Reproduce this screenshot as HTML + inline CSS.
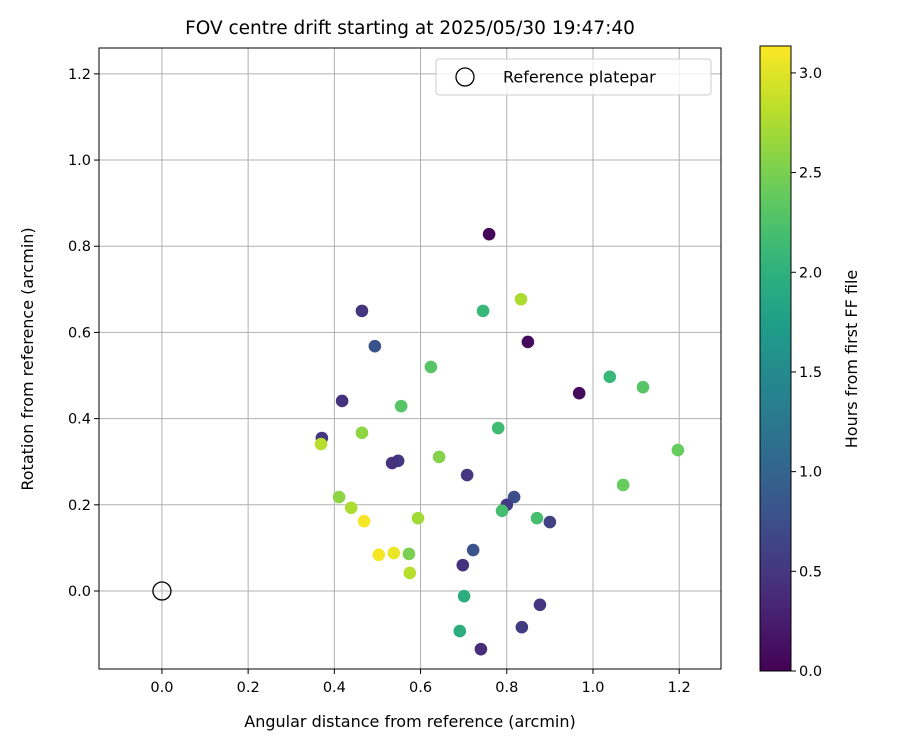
<!DOCTYPE html>
<html><head><meta charset="utf-8"><style>
body{margin:0;background:#fff;font-family:"Liberation Sans","DejaVu Sans",sans-serif;}
svg text{font-family:"DejaVu Sans","Liberation Sans",sans-serif;}
</style></head><body>
<svg id="chart" width="900" height="750" viewBox="0 0 900 750" xmlns="http://www.w3.org/2000/svg"></svg>
<script>
const xValues=[0.759,0.833,0.745,0.464,0.494,0.849,0.624,1.039,1.116,0.968,0.418,0.555,0.780,0.464,0.371,0.369,1.197,0.643,0.548,0.534,0.708,1.070,0.411,0.817,0.800,0.439,0.789,0.870,0.594,0.900,0.469,0.722,0.538,0.503,0.573,0.698,0.575,0.701,0.877,0.691,0.835,0.740];
const yValues=[0.828,0.677,0.650,0.650,0.568,0.578,0.520,0.497,0.473,0.459,0.441,0.429,0.378,0.367,0.355,0.341,0.327,0.311,0.302,0.297,0.269,0.246,0.218,0.218,0.200,0.193,0.186,0.169,0.169,0.160,0.162,0.095,0.088,0.084,0.086,0.060,0.042,-0.012,-0.032,-0.093,-0.084,-0.135];
const hours=[0.05,2.75,2.1,0.5,0.8,0.1,2.3,2.1,2.3,0.1,0.45,2.3,2.15,2.6,0.5,2.8,2.4,2.55,0.5,0.45,0.5,2.4,2.6,0.75,0.55,2.75,2.2,2.2,2.7,0.6,3.1,0.8,3.05,3.1,2.5,0.45,2.8,1.95,0.5,1.95,0.55,0.4];
const xTicks=[0,0.2,0.4,0.6,0.8,1.0,1.2];
const yTicks=[0,0.2,0.4,0.6,0.8,1.0,1.2];
const cTicks=[0,0.5,1.0,1.5,2.0,2.5,3.0];
const NS="http://www.w3.org/2000/svg";
const svg=document.getElementById('chart');
const X0=99,X1=721,Y0=48,Y1=669;
const xmin=-0.146,xmax=1.297,ymin=-0.181,ymax=1.26;
const cmin=0,cmax=3.135,CX=760,CW=31,CT=46,CB=671;
const sx=v=>X0+(v-xmin)/(xmax-xmin)*(X1-X0);
const sy=v=>Y1-(v-ymin)/(ymax-ymin)*(Y1-Y0);
const sc=v=>CB-(v-cmin)/(cmax-cmin)*(CB-CT);
const vir=[[68,1,84],[72,40,120],[62,74,137],[49,104,142],[38,130,142],[31,158,137],[53,183,121],[109,205,89],[180,222,44],[253,231,37]];
function viridis(t){t=Math.max(0,Math.min(1,t));const p=t*9,i=Math.min(8,Math.floor(p)),f=p-i;const a=vir[i],b=vir[i+1];return `rgb(${a.map((c,k)=>Math.round(c+(b[k]-c)*f)).join(',')})`;}
function el(tag,attrs,text){const e=document.createElementNS(NS,tag);for(const k in attrs)e.setAttribute(k,attrs[k]);if(text!==undefined)e.textContent=text;svg.appendChild(e);return e;}
el('text',{x:410,y:34,'text-anchor':'middle','font-size':'18.5',},'FOV centre drift starting at 2025/05/30 19:47:40');
xTicks.forEach(t=>{const x=sx(t);
 const g=el('line',{x1:x,x2:x,y1:Y0,y2:Y1,stroke:'#b0b0b0','stroke-width':1});
 const tk=el('line',{x1:x,x2:x,y1:Y1,y2:Y1+5,stroke:'#000'});
 const l=el('text',{x:x,y:Y1+23,'text-anchor':'middle','font-size':'14.5'},t.toFixed(1));});
yTicks.forEach(t=>{const y=sy(t);
 const g=el('line',{x1:X0,x2:X1,y1:y,y2:y,stroke:'#b0b0b0','stroke-width':1});
 const tk=el('line',{x1:X0-5,x2:X0,y1:y,y2:y,stroke:'#000'});
 const l=el('text',{x:X0-8,y:y+5,'text-anchor':'end','font-size':'14.5'},t.toFixed(1));});
xValues.forEach((v,i)=>{const c=el('circle',{cx:sx(v),cy:sy(yValues[i]),r:6.3,fill:viridis((hours[i]-cmin)/(cmax-cmin))});
 
 });
el('circle',{cx:sx(0),cy:sy(0),r:9,fill:'none',stroke:'#000','stroke-width':1.3,});
el('rect',{x:X0,y:Y0,width:X1-X0,height:Y1-Y0,fill:'none',stroke:'#000','stroke-width':1,});
el('text',{x:410,y:727,'text-anchor':'middle','font-size':'16',},'Angular distance from reference (arcmin)');
el('text',{x:33,y:359,'text-anchor':'middle','font-size':'16',transform:'rotate(-90 33 359)',},'Rotation from reference (arcmin)');
el('rect',{x:436,y:59,width:275,height:36,rx:3,fill:'#fff','fill-opacity':0.8,stroke:'#ccc',});
el('circle',{cx:465,cy:77,r:9,fill:'none',stroke:'#000','stroke-width':1.3,});
el('text',{x:503,y:82.5,'font-size':'16',},'Reference platepar');
const defs=el('defs',{});const grad=document.createElementNS(NS,'linearGradient');grad.setAttribute('id','vg');grad.setAttribute('x1','0');grad.setAttribute('y1','1');grad.setAttribute('x2','0');grad.setAttribute('y2','0');defs.appendChild(grad);
for(let i=0;i<=20;i++){const s=document.createElementNS(NS,'stop');s.setAttribute('offset',i/20);s.setAttribute('stop-color',viridis(i/20));grad.appendChild(s);}
el('rect',{x:CX,y:CT,width:CW,height:CB-CT,fill:'url(#vg)',stroke:'#000','stroke-width':1,});
cTicks.forEach(t=>{const y=sc(t);
 const tk=el('line',{x1:CX+CW,x2:CX+CW+5,y1:y,y2:y,stroke:'#000'});
 const l=el('text',{x:CX+CW+8,y:y+5,'font-size':'14.5'},t.toFixed(1));});
el('text',{x:857,y:359,'text-anchor':'middle','font-size':'16',transform:'rotate(-90 857 359)',},'Hours from first FF file');
</script>
</body></html>
